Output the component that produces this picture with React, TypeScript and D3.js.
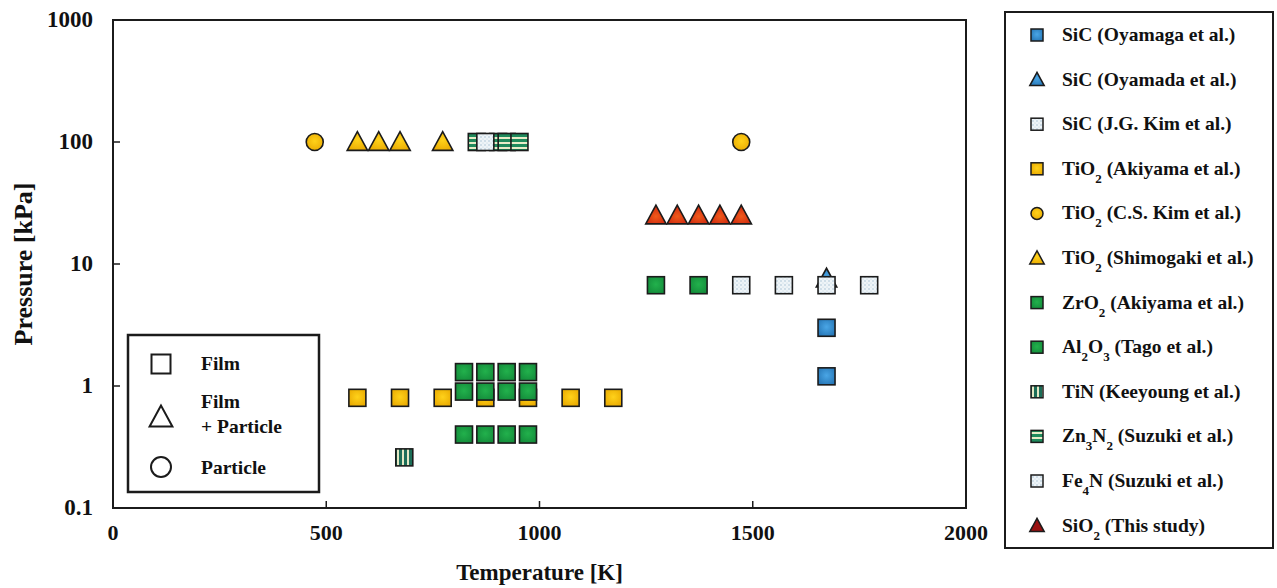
import React from "react";
import * as d3 from "d3";

// ---- data ----
const sicOyamagaT = [1673, 1673];
const sicOyamagaP = [3, 1.2];
const sicOyamadaT = [1673];
const sicOyamadaP = [7.6];
const sicKimT = [1473, 1573, 1673, 1773];
const sicKimP = [6.7, 6.7, 6.7, 6.7];
const tio2AkiyamaT = [573, 673, 773, 873, 973, 1073, 1173];
const tio2AkiyamaP = [0.8, 0.8, 0.8, 0.8, 0.8, 0.8, 0.8];
const tio2CSKimT = [473, 1473];
const tio2CSKimP = [100, 100];
const tio2ShimogakiT = [573, 623, 673, 773];
const tio2ShimogakiP = [100, 100, 100, 100];
const zro2T = [823, 873, 923, 973, 823, 873, 923, 973, 823, 873, 923, 973];
const zro2P = [1.3, 1.3, 1.3, 1.3, 0.9, 0.9, 0.9, 0.9, 0.4, 0.4, 0.4, 0.4];
const al2o3T = [1273, 1373];
const al2o3P = [6.7, 6.7];
const tinT = [683];
const tinP = [0.26];
const zn3n2T = [853, 903, 923, 953];
const zn3n2P = [100, 100, 100, 100];
const fe4nT = [873];
const fe4nP = [100];
const sio2T = [1273, 1323, 1373, 1423, 1473];
const sio2P = [25, 25, 25, 25, 25];

const xTicks = [0, 500, 1000, 1500, 2000];
const yTicks = [0.1, 1, 10, 100, 1000];
const yTickLabels = ["0.1", "1", "10", "100", "1000"];

type Shape = "square" | "triangle" | "circle";
interface Series {
  name: React.ReactNode;
  T: number[];
  P: number[];
  shape: Shape;
  fill: string;
  legendFill?: string;
}

const sub = (s: string) => (
  <tspan baselineShift="sub" fontSize="13">{s}</tspan>
);

const series: Series[] = [
  { name: <>SiC (Oyamaga et al.)</>, T: sicOyamagaT, P: sicOyamagaP, shape: "square", fill: "url(#gBlue)" },
  { name: <>SiC (Oyamada et al.)</>, T: sicOyamadaT, P: sicOyamadaP, shape: "triangle", fill: "url(#gBlue)" },
  { name: <>SiC (J.G. Kim et al.)</>, T: sicKimT, P: sicKimP, shape: "square", fill: "url(#pDots)" },
  { name: <>TiO{sub("2")}<tspan> (Akiyama et al.)</tspan></>, T: tio2AkiyamaT, P: tio2AkiyamaP, shape: "square", fill: "url(#gYellow)" },
  { name: <>TiO{sub("2")}<tspan> (C.S. Kim et al.)</tspan></>, T: tio2CSKimT, P: tio2CSKimP, shape: "circle", fill: "url(#gYellow)" },
  { name: <>TiO{sub("2")}<tspan> (Shimogaki et al.)</tspan></>, T: tio2ShimogakiT, P: tio2ShimogakiP, shape: "triangle", fill: "url(#gYellow)" },
  { name: <>ZrO{sub("2")}<tspan> (Akiyama et al.)</tspan></>, T: zro2T, P: zro2P, shape: "square", fill: "url(#gGreen)" },
  { name: <>Al{sub("2")}<tspan>O</tspan>{sub("3")}<tspan> (Tago et al.)</tspan></>, T: al2o3T, P: al2o3P, shape: "square", fill: "url(#gGreen)" },
  { name: <>TiN (Keeyoung et al.)</>, T: tinT, P: tinP, shape: "square", fill: "url(#pVert)" },
  { name: <>Zn{sub("3")}<tspan>N</tspan>{sub("2")}<tspan> (Suzuki et al.)</tspan></>, T: zn3n2T, P: zn3n2P, shape: "square", fill: "url(#pHoriz)" },
  { name: <>Fe{sub("4")}<tspan>N (Suzuki et al.)</tspan></>, T: fe4nT, P: fe4nP, shape: "square", fill: "url(#pDots)" },
  { name: <>SiO{sub("2")}<tspan> (This study)</tspan></>, T: sio2T, P: sio2P, shape: "triangle", fill: "url(#gRed)", legendFill: "#9a1010" },
];

const W = 1277;
const H = 588;
const left = 113, right = 966, top = 20, bottom = 508;

const x = d3.scaleLinear().domain([0, 2000]).range([left, right]);
const y = d3.scaleLog().domain([0.1, 1000]).range([bottom, top]);

const STROKE = "#1b1b1b";

function Marker({ shape, cx, cy, size, fill, sw }: { shape: Shape; cx: number; cy: number; size: number; fill: string; sw: number }) {
  if (shape === "square") {
    return <rect x={cx - size / 2} y={cy - size / 2} width={size} height={size} fill={fill} stroke={STROKE} strokeWidth={sw} />;
  }
  if (shape === "circle") {
    return <circle cx={cx} cy={cy} r={size / 2} fill={fill} stroke={STROKE} strokeWidth={sw} />;
  }
  const w = size * 1.2;
  const h = size * 1.1;
  const pts = `${cx},${cy - h * 0.55} ${cx - w / 2},${cy + h * 0.45} ${cx + w / 2},${cy + h * 0.45}`;
  return <polygon points={pts} fill={fill} stroke={STROKE} strokeWidth={sw} strokeLinejoin="miter" />;
}

export default function App() {
  const font = "'Liberation Serif', 'Times New Roman', serif";
  const legX = 1005, legY = 12, legW = 268, legH = 536;
  const legRows = series.map((_, i) => 35 + i * 44.6);
  return (
    <svg width={W} height={H} style={{ position: "absolute", left: 0, top: 0, background: "#fff" }} fontFamily={font} fontWeight="bold">
      <defs>
        <radialGradient id="gBlue" cx="50%" cy="45%" r="65%">
          <stop offset="0%" stopColor="#4aa6e6" />
          <stop offset="100%" stopColor="#2474b4" />
        </radialGradient>
        <radialGradient id="gYellow" cx="50%" cy="45%" r="65%">
          <stop offset="0%" stopColor="#ffd21a" />
          <stop offset="100%" stopColor="#e8a800" />
        </radialGradient>
        <radialGradient id="gGreen" cx="50%" cy="45%" r="65%">
          <stop offset="0%" stopColor="#22b14c" />
          <stop offset="100%" stopColor="#138a3a" />
        </radialGradient>
        <radialGradient id="gRed" cx="50%" cy="60%" r="65%">
          <stop offset="0%" stopColor="#f05a1a" />
          <stop offset="100%" stopColor="#c8200e" />
        </radialGradient>
        <pattern id="pDots" width="4" height="4" patternUnits="userSpaceOnUse">
          <rect width="4" height="4" fill="#eef4f8" />
          <circle cx="1" cy="1" r="0.7" fill="#9ab8cc" />
          <circle cx="3" cy="3" r="0.6" fill="#c0d4e0" />
        </pattern>
        <pattern id="pHoriz" width="4" height="5" patternUnits="userSpaceOnUse">
          <rect width="4" height="5" fill="#1f8a5c" />
          <rect y="2" width="4" height="2" fill="#e8ecc8" />
        </pattern>
        <pattern id="pVert" width="5" height="4" patternUnits="userSpaceOnUse">
          <rect width="5" height="4" fill="#1c6e58" />
          <rect x="2" width="2" height="4" fill="#e4e8c4" />
        </pattern>
      </defs>

      {/* ticks */}
      {xTicks.map((t) => (
        <line key={"xt" + t} x1={x(t)} x2={x(t)} y1={bottom} y2={bottom - 7} stroke={STROKE} strokeWidth={1.5} />
      ))}
      {yTicks.map((t) => (
        <line key={"yt" + t} x1={left} x2={left + 7} y1={y(t)} y2={y(t)} stroke={STROKE} strokeWidth={1.5} />
      ))}
      {/* tick labels */}
      {xTicks.map((t) => (
        <text key={"xl" + t} x={x(t)} y={540} textAnchor="middle" fontSize={22} fill="#111">{t}</text>
      ))}
      {yTicks.map((t, i) => (
        <text key={"yl" + t} x={93} y={y(t) + 7} textAnchor="end" fontSize={23} fill="#111">{yTickLabels[i]}</text>
      ))}
      <text x={x(1000)} y={580} textAnchor="middle" fontSize={23} fill="#111">Temperature [K]</text>
      <text transform={`translate(32,${y(10)}) rotate(-90)`} textAnchor="middle" fontSize={26} fill="#111">Pressure [kPa]</text>

      {/* data */}
      {series.map((s, si) => (
        <g key={"s" + si}>
          {s.T.map((t, i) => (
            <Marker key={i} shape={s.shape} cx={x(t)} cy={y(s.P[i])} size={17} fill={s.fill} sw={1.6} />
          ))}
        </g>
      ))}

      {/* frame */}
      <rect x={left} y={top} width={right - left} height={bottom - top} fill="none" stroke={STROKE} strokeWidth={2} />

      {/* inset legend */}
      <rect x={128} y={335} width={191} height={157} fill="#fff" stroke={STROKE} strokeWidth={2.5} />
      <Marker shape="square" cx={161} cy={364} size={19} fill="#fff" sw={2} />
      <Marker shape="triangle" cx={161} cy={417} size={19} fill="#fff" sw={2} />
      <Marker shape="circle" cx={161} cy={467} size={20} fill="#fff" sw={2} />
      <text x={201} y={370} fontSize={19.5} fill="#111">Film</text>
      <text x={201} y={408} fontSize={19.5} fill="#111">Film</text>
      <text x={201} y={433} fontSize={19.5} fill="#111">+ Particle</text>
      <text x={201} y={474} fontSize={19.5} fill="#111">Particle</text>

      {/* right legend */}
      <rect x={legX} y={legY} width={legW} height={legH} fill="#fff" stroke={STROKE} strokeWidth={2} />
      {series.map((s, i) => (
        <g key={"l" + i}>
          <Marker shape={s.shape} cx={1037} cy={legRows[i]} size={12} fill={s.legendFill ?? s.fill} sw={1.5} />
          <text x={1062} y={legRows[i] + 6} fontSize={19.5} fill="#111">{s.name}</text>
        </g>
      ))}
    </svg>
  );
}
